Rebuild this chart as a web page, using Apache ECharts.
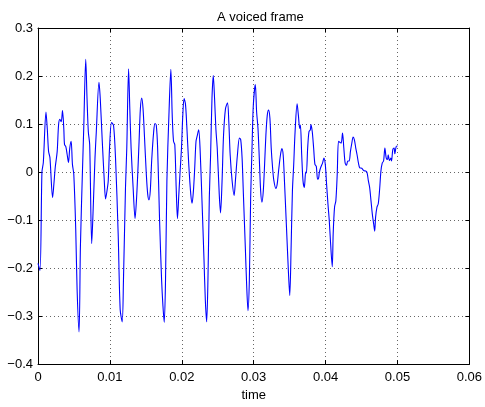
<!DOCTYPE html>
<html>
<head>
<meta charset="utf-8">
<title>A voiced frame</title>
<script src="https://cdn.jsdelivr.net/npm/echarts@6/dist/echarts.min.js"></script>
<style>
  html, body { margin: 0; padding: 0; background: #fff; }
  #chart { width: 485px; height: 407px; }
</style>
</head>
<body>
<div id="chart"></div>
<script>
// sample times in milliseconds
const timeMs = [
  0.00, 0.28, 0.55, 0.74, 1.11, 1.29, 1.47, 1.66, 2.03, 2.21, 2.40, 2.67, 2.86, 3.04, 3.23, 3.41,
  3.59, 3.69, 3.87, 4.06, 4.24, 4.42, 4.61, 4.79, 4.98, 5.25, 5.44, 5.71, 5.90, 6.18, 6.36, 6.64,
  6.82, 7.00, 7.19, 7.47, 7.65, 7.93, 8.11, 8.48, 8.66, 8.94, 9.22, 9.40, 9.59, 9.77, 9.95, 10.23,
  10.51, 10.78, 11.15, 11.43, 11.71, 11.89, 12.17, 12.35, 12.60, 12.77, 12.95, 13.23, 13.50, 13.69,
  13.87, 14.06, 14.24, 14.43, 14.61, 14.80, 15.07, 15.26, 15.44, 15.62, 15.81, 16.09, 16.27, 16.45,
  16.64, 16.91, 17.19, 17.38, 17.56, 17.74, 17.93, 18.21, 18.48, 18.67, 18.85, 19.03, 19.22, 19.40,
  19.59, 19.77, 19.96, 20.14, 20.32, 20.51, 20.69, 20.97, 21.25, 21.43, 21.62, 21.80, 21.98, 22.17,
  22.35, 22.54, 22.81, 23.09, 23.27, 23.46, 23.64, 23.83, 24.01, 24.20, 24.38, 24.56, 24.75, 24.93,
  25.21, 25.39, 25.60, 25.81, 26.08, 26.36, 26.54, 26.73, 27.00, 27.28, 27.46, 27.74, 28.02, 28.20,
  28.39, 28.57, 28.85, 29.03, 29.21, 29.40, 29.58, 29.77, 29.95, 30.23, 30.41, 30.60, 30.78, 30.97,
  31.15, 31.34, 31.52, 31.70, 31.89, 32.07, 32.26, 32.44, 32.63, 32.81, 33.09, 33.27, 33.46, 33.73,
  33.92, 34.10, 34.28, 34.56, 34.84, 35.02, 35.21, 35.39, 35.57, 35.76, 36.04, 36.22, 36.40, 36.50,
  36.68, 36.86, 37.05, 37.23, 37.33, 37.51, 37.69, 37.88, 37.97, 38.15, 38.34, 38.52, 38.71, 38.89,
  39.04, 39.13, 39.31, 39.59, 39.77, 39.96, 40.14, 40.33, 40.51, 40.70, 40.93, 41.06, 41.25, 41.43,
  41.62, 41.80, 41.99, 42.17, 42.36, 42.54, 42.72, 42.91, 43.09, 43.28, 43.46, 43.65, 43.83, 44.01,
  44.20, 44.38, 44.57, 44.75, 45.03, 45.30, 45.58, 45.77, 45.95, 46.13, 46.32, 46.50, 46.69, 46.83,
  46.96, 47.15, 47.33, 47.52, 47.70, 47.89, 48.07, 48.25, 48.44, 48.62, 48.71, 48.90, 49.08, 49.17,
  49.36, 49.54, 49.63, 49.82, 50.00
]
// amplitude at each of those times
const amplitude = [
  -0.190, -0.205, 0.000, 0.020, 0.125, 0.090, 0.043, 0.030, -0.053, -0.025, 0.010, 0.043, 0.098, 0.110, 0.105, 0.128,
  0.090, 0.057, 0.053, 0.036, 0.020, 0.050, 0.064, 0.016, -0.005, -0.120, -0.245, -0.333, -0.155, 0.000, 0.090, 0.235,
  0.153, 0.084, 0.057, -0.149, -0.087, 0.030, 0.084, 0.187, 0.153, 0.064, -0.018, -0.056, -0.040, -0.018, 0.050, 0.103,
  0.097, 0.030, -0.128, -0.286, -0.312, -0.224, -0.032, 0.050, 0.215, 0.132, 0.050, -0.032, -0.097, -0.060,
  -0.005, 0.064, 0.132, 0.154, 0.132, 0.077, -0.005, -0.046, -0.058, -0.039, 0.023, 0.084, 0.101, 0.098,
  0.050, -0.100, -0.224, -0.279, -0.313, -0.224, -0.018, 0.118, 0.214, 0.118, 0.064, 0.057, -0.032, -0.097,
  -0.046, 0.002, 0.050, 0.118, 0.153, 0.142, 0.098, 0.016, -0.046, -0.065, -0.039, 0.009, 0.064, 0.077,
  0.088, 0.050, -0.060, -0.182, -0.265, -0.312, -0.224, -0.053, 0.036, 0.153, 0.201, 0.153, 0.088, 0.050,
  -0.046, -0.085, -0.020, 0.077, 0.132, 0.144, 0.105, 0.036, -0.018, -0.049, -0.018, 0.036, 0.071, 0.067,
  0.029, -0.046, -0.162, -0.238, -0.289, -0.224, -0.053, 0.050, 0.139, 0.182, 0.125, 0.091, 0.029, -0.039,
  -0.063, -0.039, 0.016, 0.077, 0.118, 0.129, 0.112, 0.050, 0.009, -0.018, -0.034, -0.025, 0.002, 0.036,
  0.049, 0.036, -0.018, -0.114, -0.210, -0.257, -0.155, -0.039, 0.016, 0.084, 0.142, 0.118, 0.091, 0.098,
  0.036, -0.018, -0.032, 0.000, -0.002, 0.050, 0.084, 0.088, 0.099, 0.084, 0.050, 0.016, 0.012, -0.015,
  -0.012, -0.001, 0.009, 0.019, 0.029, 0.016, -0.025, -0.066, -0.100, -0.149, -0.197, -0.128, -0.073, -0.060,
  -0.005, 0.064, 0.062, 0.060, 0.081, 0.050, 0.019, 0.014, 0.023, 0.023, 0.043, 0.060, 0.073, 0.067,
  0.050, 0.036, 0.019, 0.009, 0.008, 0.003, 0.002, -0.001, -0.018, -0.032, -0.060, -0.087, -0.108, -0.123,
  -0.094, -0.073, -0.066, -0.036, 0.002, 0.019, 0.023, 0.050, 0.029, 0.026, 0.036, 0.024, 0.029, 0.023,
  0.047, 0.050, 0.038, 0.053, 0.055
]
const xTicks = [0, 0.01, 0.02, 0.03, 0.04, 0.05, 0.06]
const yTicks = [-0.4, -0.3, -0.2, -0.1, 0, 0.1, 0.2, 0.3]

const font = 'Liberation Sans, Arial, Helvetica, sans-serif'

// tick labels use a real minus sign, like matlab
function fmt (v) {
  const s = String(+v.toFixed(2))
  return s.charAt(0) === '-' ? '\u2212' + s.slice(1) : s
}

const points = timeMs.map((t, i) => [t / 1000, amplitude[i]])

const chart = echarts.init(document.getElementById('chart'), null, { renderer: 'canvas' })

// box round the plot, ticks pointing in
const frameAxis = {
  axisLine: { show: true, onZero: false, lineStyle: { color: '#000', width: 1 } },
  axisTick: { show: true, inside: true, length: 4, lineStyle: { color: '#000' } }
}
const gridLine = { show: true, lineStyle: { color: '#666', type: [1, 3], width: 1 } }

chart.setOption({
  backgroundColor: '#fff',
  animation: false,
  title: {
    text: 'A voiced frame',
    left: 212,
    top: 6,
    textStyle: { fontFamily: font, fontSize: 13, fontWeight: 'normal', color: '#000' }
  },
  grid: { left: 38, right: 13, top: 28, bottom: 38, containLabel: false },
  xAxis: [
    {
      type: 'value',
      min: xTicks[0],
      max: xTicks[xTicks.length - 1],
      interval: 0.01,
      name: 'time',
      nameLocation: 'middle',
      nameGap: 21,
      nameTextStyle: { fontFamily: font, fontSize: 13, color: '#000' },
      ...frameAxis,
      axisLabel: { margin: 7, fontFamily: font, fontSize: 13, color: '#000', formatter: fmt },
      splitLine: gridLine
    },
    {
      type: 'value',
      position: 'top',
      min: xTicks[0],
      max: xTicks[xTicks.length - 1],
      interval: 0.01,
      ...frameAxis,
      axisLabel: { show: false },
      splitLine: { show: false }
    }
  ],
  yAxis: [
    {
      type: 'value',
      min: yTicks[0],
      max: yTicks[yTicks.length - 1],
      interval: 0.1,
      ...frameAxis,
      axisLabel: { margin: 5, fontFamily: font, fontSize: 13, color: '#000', formatter: fmt },
      splitLine: gridLine
    },
    {
      type: 'value',
      position: 'right',
      min: yTicks[0],
      max: yTicks[yTicks.length - 1],
      interval: 0.1,
      ...frameAxis,
      axisLabel: { show: false },
      splitLine: { show: false }
    }
  ],
  series: [
    {
      type: 'line',
      xAxisIndex: 0,
      yAxisIndex: 0,
      data: points,
      showSymbol: false,
      smooth: 0.3,
      lineStyle: { color: '#0000ff', width: 1.1 },
      z: 3
    }
  ]
})
</script>
</body>
</html>
